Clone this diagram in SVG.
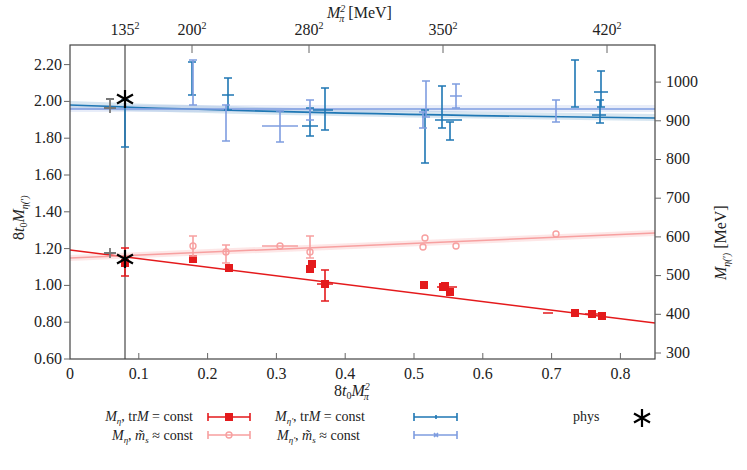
<svg xmlns="http://www.w3.org/2000/svg" width="747" height="470" viewBox="0 0 747 470" font-family="'Liberation Serif','DejaVu Serif',serif">
<style>
text{font-family:"Liberation Serif","Noto Serif","DejaVu Serif",serif;font-size:16px;fill:#222}
.m{font-style:italic}
.lg{font-size:14px}
.ax{stroke:#444;stroke-width:1.2;fill:none}
.tk{stroke:#666;stroke-width:1}
.db{stroke:#1f77b4;stroke-width:1.6;fill:none}
.lb{stroke:#7f9de0;stroke-width:1.6;fill:none}
.rd{stroke:#e41a1c;stroke-width:1.6;fill:none}
.pk{stroke:#f7a0a0;stroke-width:1.6;fill:none}
.gy{stroke:#777;stroke-width:1.8;fill:none}
</style>
<defs>
<rect id="sq" x="-4" y="-4" width="8" height="8" fill="#e41a1c"/>
<circle id="ci" r="3" fill="none" stroke="#f7a0a0" stroke-width="1.4"/>
<path id="star" d="M0,-9V9M-8,-4.5L8,4.5M-8,4.5L8,-4.5" stroke="#000" stroke-width="2.2"/>
</defs>
<g id="bands">
<path d="M70,101 Q300,110 655,114 L655,121 Q300,117 70,109Z" fill="#1f77b4" opacity="0.18"/>
<path d="M70,105 L655,105 L655,112 L70,112Z" fill="#7f9de0" opacity="0.18"/>
<path d="M70,255 L655,230 L655,236 L70,261Z" fill="#f7a0a0" opacity="0.25"/>
</g>
<g id="connectors">
<path class="db" d="M70,105 Q300,114 655,118"/>
<path d="M70,109 L655,109" stroke="#7f9de0" stroke-width="1.3"/>
<path d="M70,250 L655,323" stroke="#e41a1c" stroke-width="1.5"/>
<path d="M70,258 L655,233" stroke="#f7a0a0" stroke-width="1.5"/>
<path d="M125,45V359" stroke="#222" stroke-width="1"/>
</g>
<g id="axes">
<rect class="ax" x="70" y="45" width="585" height="314"/>
<path class="tk" d="M70,359h-6M70,322.2h-6M70,285.4h-6M70,248.6h-6M70,211.8h-6M70,175h-6M70,138.2h-6M70,101.4h-6M70,64.6h-6
M655,353h6M655,314.3h6M655,275.6h6M655,236.9h6M655,198.2h6M655,159.5h6M655,120.8h6M655,82.1h6
M138.8,359v-6M207.6,359v-6M276.4,359v-6M345.2,359v-6M414,359v-6M482.8,359v-6M551.6,359v-6M620.4,359v-6
M192,45v8M309,45v8M443,45v8M607,45v8"/>
<g text-anchor="end">
<text x="62" y="364">0.60</text><text x="62" y="327">0.80</text><text x="62" y="290">1.00</text><text x="62" y="254">1.20</text><text x="62" y="217">1.40</text><text x="62" y="180">1.60</text><text x="62" y="143">1.80</text><text x="62" y="106">2.00</text><text x="62" y="70">2.20</text>
</g>
<g>
<text x="666" y="358">300</text><text x="666" y="319">400</text><text x="666" y="280">500</text><text x="666" y="242">600</text><text x="666" y="203">700</text><text x="666" y="164">800</text><text x="666" y="126">900</text><text x="666" y="87">1000</text>
</g>
<g text-anchor="middle">
<text x="70" y="379">0</text><text x="138.8" y="379">0.1</text><text x="207.6" y="379">0.2</text><text x="276.4" y="379">0.3</text><text x="345.2" y="379">0.4</text><text x="414" y="379">0.5</text><text x="482.8" y="379">0.6</text><text x="551.6" y="379">0.7</text><text x="620.4" y="379">0.8</text>
<text x="125" y="35">135<tspan font-size="10" dy="-6">2</tspan></text>
<text x="192" y="35">200<tspan font-size="10" dy="-6">2</tspan></text>
<text x="309" y="35">280<tspan font-size="10" dy="-6">2</tspan></text>
<text x="443" y="35">350<tspan font-size="10" dy="-6">2</tspan></text>
<text x="607" y="35">420<tspan font-size="10" dy="-6">2</tspan></text>
</g>
<text x="327" y="18"><tspan class="m">M</tspan><tspan font-size="10" class="m" dy="-6">2</tspan><tspan font-size="10" class="m" dx="-6" dy="10">π</tspan><tspan dy="-4"> [MeV]</tspan></text>
<text x="334" y="396">8<tspan class="m">t</tspan><tspan font-size="10" dy="3">0</tspan><tspan class="m" dy="-3">M</tspan><tspan font-size="10" class="m" dy="-6">2</tspan><tspan font-size="10" class="m" dx="-6" dy="10">π</tspan></text>
<text transform="translate(24,240) rotate(-90)">8<tspan class="m">t</tspan><tspan font-size="10" dy="3">0</tspan><tspan class="m" dy="-3">M</tspan><tspan font-size="10" class="m" dy="4">η(′)</tspan></text>
<text transform="translate(726,280) rotate(-90)"><tspan class="m">M</tspan><tspan font-size="10" class="m" dy="4">η(′)</tspan><tspan dy="-4"> [MeV]</tspan></text>
</g>
<g id="eta-prime-trM">
<path class="db" d="M125,147V100M121,147h8M121,100h8M192,95V62M188,95h8M188,62h8M222,95h12M228,110V78M224,110h8M224,78h8M302,126h16M310,136V108M306,136h8M306,108h8M313,110h20M325,130V88M321,130h8M321,88h8M425,163V110M421,163h8M421,110h8M435,120h27M442,128V86M438,128h8M438,86h8M450,140V122M446,140h8M446,122h8M575,107V60M571,107h8M571,60h8M592,115h14M600,123V100M596,123h8M596,100h8M594,92h14M601,107V71M597,107h8M597,71h8"/>
</g>
<g id="eta-prime-ms">
<path class="lb" d="M193,105V60M189,105h8M189,60h8M226,141V105M222,141h8M222,105h8M262,126h36M280,142V111M276,142h8M276,111h8M310,120V100M306,120h8M306,100h8M423,128V112M419,128h8M419,112h8M426,117V81M422,117h8M422,81h8M450,96h12M456,108V84M452,108h8M452,84h8M556,122V100M552,122h8M552,100h8"/>
</g>
<g id="gray">
<path class="gy" d="M110,113V99M106,99h8M104,108h12M110,258V248M104,253h12"/>
</g>
<g id="eta-trM">
<path class="rd" d="M125,276V248M121,276h8M121,248h8M317,284h16M325,301V270M321,301h8M321,270h8M437,287h20M543,313h10M585,314h20"/>
<use href="#sq" x="125" y="263"/><use href="#sq" x="193" y="259"/><use href="#sq" x="229" y="268"/><use href="#sq" x="310" y="269"/><use href="#sq" x="312" y="264"/><use href="#sq" x="325" y="284"/><use href="#sq" x="424" y="285"/><use href="#sq" x="443" y="287"/><use href="#sq" x="450" y="292"/><use href="#sq" x="445" y="286"/><use href="#sq" x="575" y="313"/><use href="#sq" x="592" y="314"/><use href="#sq" x="602" y="316"/>
</g>
<g id="eta-ms">
<path class="pk" d="M193,256V236M189,256h8M189,236h8M226,263V245M222,263h8M222,245h8M262,246h36M310,258V236M306,258h8M306,236h8"/>
<use href="#ci" x="193" y="246"/><use href="#ci" x="226" y="252"/><use href="#ci" x="280" y="246"/><use href="#ci" x="310" y="252"/><use href="#ci" x="423" y="247"/><use href="#ci" x="425" y="238"/><use href="#ci" x="456" y="246"/><use href="#ci" x="556" y="234"/>
</g>
<g id="phys">
<use href="#star" x="125" y="99"/><use href="#star" x="125" y="259"/>
</g>
<g id="legend">
<text class="lg" x="193" y="421" text-anchor="end"><tspan class="m">M</tspan><tspan font-size="9" class="m" dy="3">η</tspan><tspan dy="-3">, tr</tspan><tspan class="m">M</tspan> = const</text>
<text class="lg" x="193" y="440" text-anchor="end"><tspan class="m">M</tspan><tspan font-size="9" class="m" dy="3">η</tspan><tspan dy="-3">,  </tspan><tspan class="m">m̃</tspan><tspan font-size="9" class="m" dy="3">s</tspan><tspan dy="-3"> ≈ const</tspan></text>
<path class="rd" d="M208,417h42M208,413v8M250,413v8"/><use href="#sq" x="229" y="417"/>
<path class="pk" d="M208,435h42M208,431v8M250,431v8"/><use href="#ci" x="229" y="435"/>
<text class="lg" x="275" y="421"><tspan class="m">M</tspan><tspan font-size="9" class="m" dy="3">η′</tspan><tspan dy="-3">, tr</tspan><tspan class="m">M</tspan> = const</text>
<text class="lg" x="277" y="440"><tspan class="m">M</tspan><tspan font-size="9" class="m" dy="3">η′</tspan><tspan dy="-3">,  </tspan><tspan class="m">m̃</tspan><tspan font-size="9" class="m" dy="3">s</tspan><tspan dy="-3"> ≈ const</tspan></text>
<path class="db" d="M414,417h43M414,413v8M457,413v8M436,415v4"/>
<path class="lb" d="M414,435h43M414,431v8M457,431v8M434,433l4,4M434,437l4,-4"/>
<text class="lg" x="573" y="421">phys</text>
<use href="#star" x="642" y="418"/>
</g>
</svg>
